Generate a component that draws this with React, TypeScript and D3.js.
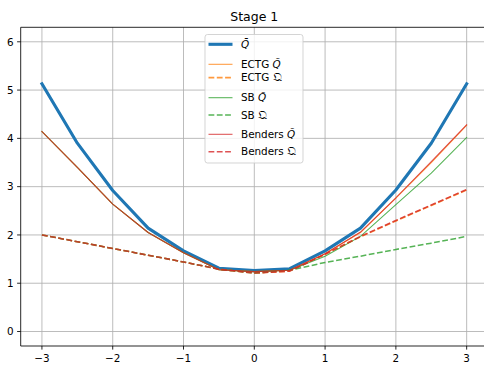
import React from "react";
import * as d3 from "d3";

// Sample points
const xs = [-3, -2.5, -2, -1.5, -1, -0.5, 0, 0.5, 1, 1.5, 2, 2.5, 3];

const qBar = [5.13, 3.9, 2.92, 2.14, 1.67, 1.31, 1.26, 1.3, 1.67, 2.14, 2.93, 3.9, 5.13];

const ectgTilde = [4.14, 3.4, 2.64, 2.05, 1.63, 1.28, 1.24, 1.27, 1.61, 2.05, 2.76, 3.5, 4.27];
const ectgFrak = [2.0, 1.86, 1.72, 1.58, 1.44, 1.29, 1.21, 1.25, 1.6, 1.96, 2.29, 2.61, 2.93];

const sbTilde = [4.14, 3.4, 2.64, 2.05, 1.63, 1.28, 1.24, 1.27, 1.56, 1.97, 2.63, 3.28, 4.02];
const sbFrak = [2.0, 1.86, 1.72, 1.58, 1.44, 1.29, 1.21, 1.27, 1.43, 1.56, 1.7, 1.83, 1.97];

const bendersTilde = [4.14, 3.4, 2.64, 2.05, 1.63, 1.28, 1.24, 1.27, 1.61, 2.06, 2.77, 3.52, 4.28];
const bendersFrak = [2.0, 1.86, 1.72, 1.58, 1.44, 1.29, 1.21, 1.25, 1.6, 1.97, 2.3, 2.62, 2.94];

const xTicks = [-3, -2, -1, 0, 1, 2, 3];
const yTicks = [0, 1, 2, 3, 4, 5, 6];

const W = 484;
const H = 369;
const FONT = "DejaVu Sans, sans-serif";

const C_BLUE = "#1f77b4";
const C_ORANGE = "#ff7f0e";
const C_GREEN = "#2ca02c";
const C_RED = "#d62728";

type Series = {
  values: number[];
  color: string;
  width: number;
  dash?: string;
  opacity: number;
  method: string;
  kind: "bar" | "tilde" | "frak";
};

const series: Series[] = [
  { values: qBar, color: C_BLUE, width: 3.1, opacity: 1, method: "", kind: "bar" },
  { values: ectgTilde, color: C_ORANGE, width: 1.05, opacity: 0.8, method: "ECTG", kind: "tilde" },
  { values: ectgFrak, color: C_ORANGE, width: 1.55, dash: "5.8,2.5", opacity: 0.8, method: "ECTG", kind: "frak" },
  { values: sbTilde, color: C_GREEN, width: 1.05, opacity: 0.8, method: "SB", kind: "tilde" },
  { values: sbFrak, color: C_GREEN, width: 1.55, dash: "5.8,2.5", opacity: 0.8, method: "SB", kind: "frak" },
  { values: bendersTilde, color: C_RED, width: 1.05, opacity: 0.8, method: "Benders", kind: "tilde" },
  { values: bendersFrak, color: C_RED, width: 1.55, dash: "5.8,2.5", opacity: 0.8, method: "Benders", kind: "frak" },
];

const legendRows = [44.3, 64.3, 77.6, 97.7, 115, 134.3, 151.7];

function Symbol({ kind }: { kind: Series["kind"] }) {
  if (kind === "frak") {
    return <tspan fontSize={11.8}>{"\u{1D514}"}</tspan>;
  }
  const mark = kind === "bar" ? "\u0304" : "\u0303";
  return <tspan fontStyle="italic">{"Q" + mark}</tspan>;
}

export default function App() {
  const left = 20.7;
  const right = 487.9;
  const top = 27.3;
  const bottom = 346;

  const x = d3.scaleLinear().domain([-3.3, 3.3]).range([left, right]);
  const y = d3.scaleLinear().domain([-0.3, 6.3]).range([bottom, top]);

  const line = d3
    .line<number>()
    .x((_, i) => x(xs[i]))
    .y((d) => y(d));

  const fmt = (v: number) => (v < 0 ? "\u2212" + Math.abs(v) : String(v));

  return (
    <div style={{ position: "absolute", left: 0, top: 0 }}>
      <svg width={W} height={H} style={{ display: "block" }} fontFamily={FONT}>
        <rect x={0} y={0} width={W} height={H} fill="#ffffff" />
        <defs>
          <clipPath id="plot-area">
            <rect x={left} y={top} width={right - left} height={bottom - top} />
          </clipPath>
        </defs>

        {/* grid */}
        <g stroke="#b0b0b0" strokeWidth={0.85}>
          {xTicks.map((t) => (
            <line key={"gx" + t} x1={x(t)} x2={x(t)} y1={top} y2={bottom} />
          ))}
          {yTicks.map((t) => (
            <line key={"gy" + t} x1={left} x2={right} y1={y(t)} y2={y(t)} />
          ))}
        </g>

        {/* curves */}
        <g clipPath="url(#plot-area)" fill="none" strokeLinejoin="round">
          {series.map((s, i) => (
            <path
              key={i}
              d={line(s.values) || ""}
              stroke={s.color}
              strokeWidth={s.width}
              strokeDasharray={s.dash}
              strokeOpacity={s.opacity}
              strokeLinecap={s.dash ? "butt" : "square"}
            />
          ))}
        </g>

        {/* spines */}
        <g stroke="#000" strokeWidth={0.85} fill="none">
          <line x1={left} x2={left} y1={top} y2={bottom} />
          <line x1={left} x2={right} y1={bottom} y2={bottom} />
          <line x1={left} x2={right} y1={top} y2={top} />
          <line x1={right} x2={right} y1={top} y2={bottom} />
        </g>

        {/* ticks */}
        <g fontSize={10.4} fill="#000">
          {xTicks.map((t) => (
            <g key={"tx" + t}>
              <line x1={x(t)} x2={x(t)} y1={bottom} y2={bottom + 3.6} stroke="#000" strokeWidth={0.85} />
              <text x={x(t)} y={bottom + 15.5} textAnchor="middle">
                {fmt(t)}
              </text>
            </g>
          ))}
          {yTicks.map((t) => (
            <g key={"ty" + t}>
              <line x1={left - 3.6} x2={left} y1={y(t)} y2={y(t)} stroke="#000" strokeWidth={0.85} />
              <text x={left - 7} y={y(t)} dy="0.36em" textAnchor="end">
                {fmt(t)}
              </text>
            </g>
          ))}
        </g>

        {/* title */}
        <text x={(left + right) / 2} y={20.5} textAnchor="middle" fontSize={12.5} fill="#000">
          Stage 1
        </text>

        {/* legend */}
        <g>
          <rect
            x={205}
            y={34.5}
            width={98}
            height={128.5}
            rx={2.5}
            fill="#ffffff"
            fillOpacity={0.8}
            stroke="#cccccc"
            strokeWidth={0.85}
          />
          {series.map((s, i) => (
            <g key={"lg" + i}>
              <line
                x1={208.5}
                x2={232.5}
                y1={legendRows[i]}
                y2={legendRows[i]}
                stroke={s.color}
                strokeWidth={s.width}
                strokeDasharray={s.dash}
                strokeOpacity={s.opacity}
              />
              <text x={241} y={legendRows[i]} dy="0.36em" fontSize={10.4} fill="#000">
                {s.method ? s.method + " " : ""}
                <Symbol kind={s.kind} />
              </text>
            </g>
          ))}
        </g>
      </svg>
    </div>
  );
}
